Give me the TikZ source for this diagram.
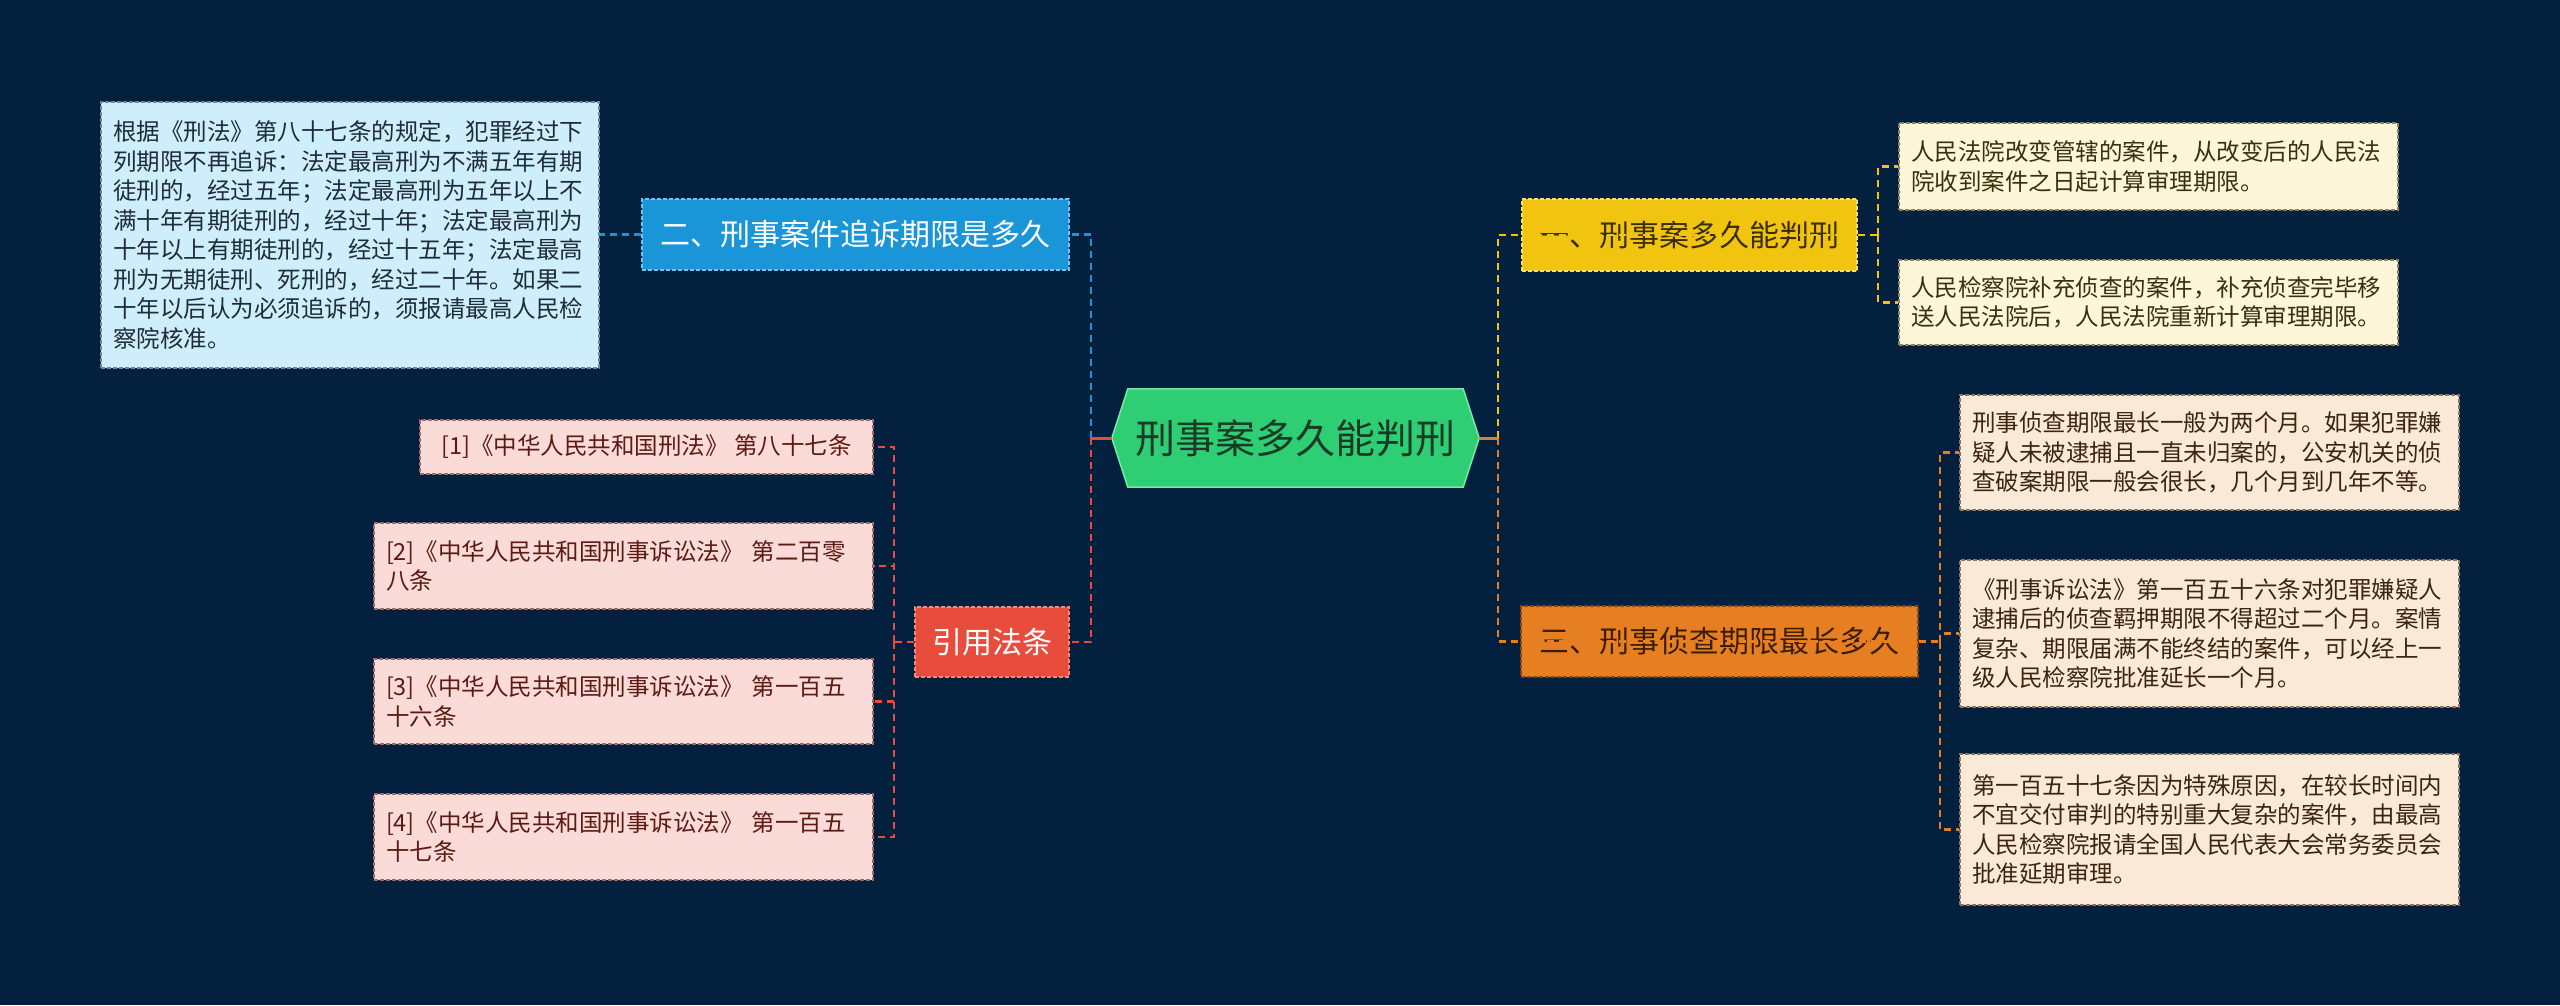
\documentclass[tikz,border=0pt]{standalone}
\usepackage{fontspec}
\setmainfont{Noto Sans CJK SC}
\usetikzlibrary{backgrounds}
\definecolor{bg}{HTML}{03213F}
\definecolor{cgreen}{HTML}{2ECF74}
\definecolor{cgreenb}{HTML}{7BE6A6}
\definecolor{cgreent}{HTML}{1B3A26}
\definecolor{cblue}{HTML}{1A96D8}
\definecolor{cblueb}{HTML}{6CC4F2}
\definecolor{lblue}{HTML}{CFEEFB}
\definecolor{lblueb}{HTML}{6F8799}
\definecolor{lbluet}{HTML}{1E2C3A}
\definecolor{cyellow}{HTML}{F1C40F}
\definecolor{cyellowb}{HTML}{F8DE70}
\definecolor{cyellowt}{HTML}{3A2E00}
\definecolor{lyellow}{HTML}{FDF6D9}
\definecolor{lyellowb}{HTML}{8C8160}
\definecolor{lyellowt}{HTML}{3A3010}
\definecolor{corange}{HTML}{E67E22}
\definecolor{coranget}{HTML}{3B1E05}
\definecolor{lorange}{HTML}{FBE9D7}
\definecolor{loraneb}{HTML}{8E7560}
\definecolor{lorangt}{HTML}{3B2410}
\definecolor{cred}{HTML}{E74C3C}
\definecolor{credb}{HTML}{F28B7F}
\definecolor{lred}{HTML}{FADBD8}
\definecolor{lredb}{HTML}{9A6D69}
\definecolor{lredt}{HTML}{5C1A12}
\tikzset{
  boxbase/.style={rectangle, inner sep=0pt, draw, line width=1.2pt, dash pattern=on 4pt off 2pt},
  branchbox/.style={boxbase, font=\fontsize{30}{36}\selectfont, align=center},
  leafbox/.style={boxbase, font=\fontsize{23.5}{29.5}\selectfont, align=left, inner xsep=12pt},
  conn/.style={line width=2.5pt, dash pattern=on 7pt off 5pt},
  stub/.style={line width=3pt}
}
\begin{document}
\begin{tikzpicture}[x=1pt,y=-1pt]
\useasboundingbox (0,0) rectangle (2560,1005);
% center
\node[minimum width=367pt, minimum height=98pt, inner sep=0pt, text=cgreent,
      font=\fontsize{40}{46}\selectfont] (c) at (1295.5,438) {刑事案多久能判刑};
\begin{scope}[on background layer]
  \fill[bg] (0,0) rectangle (2560,1005);
  \filldraw[fill=cgreen, draw=cgreenb, line width=1.5pt]
    (c.west) -- ([xshift=16pt]c.north west) -- ([xshift=-16pt]c.north east)
    -- (c.east) -- ([xshift=-16pt]c.south east) -- ([xshift=16pt]c.south west) -- cycle;
\end{scope}
% branches
\node[branchbox, fill=cblue, draw=cblueb, text=white, minimum width=427pt, minimum height=71pt]
  (b2) at (855.5,234.5) {二、刑事案件追诉期限是多久};
\node[branchbox, fill=cred, draw=credb, text=white, minimum width=154pt, minimum height=70pt]
  (b4) at (992,642) {引用法条};
\node[branchbox, fill=cyellow, draw=cyellowb, text=cyellowt, minimum width=335pt, minimum height=72pt]
  (b1) at (1689.5,235) {一、刑事案多久能判刑};
\node[branchbox, fill=corange, draw=coranget!60!corange, text=coranget, minimum width=397pt, minimum height=71pt]
  (b3) at (1719.5,641.5) {三、刑事侦查期限最长多久};
% leaves: blue
\node[leafbox, fill=lblue, draw=lblueb, text=lbluet, minimum height=266pt, text width=474pt]
  (lb) at (350,235) {根据《刑法》第八十七条的规定，犯罪经过下\\列期限不再追诉：法定最高刑为不满五年有期\\徒刑的，经过五年；法定最高刑为五年以上不\\满十年有期徒刑的，经过十年；法定最高刑为\\十年以上有期徒刑的，经过十五年；法定最高\\刑为无期徒刑、死刑的，经过二十年。如果二\\十年以后认为必须追诉的，须报请最高人民检\\察院核准。};
% leaves: yellow
\node[leafbox, fill=lyellow, draw=lyellowb, text=lyellowt, minimum height=87pt, text width=475pt]
  (l11) at (2148.5,166.5) {人民法院改变管辖的案件，从改变后的人民法\\院收到案件之日起计算审理期限。};
\node[leafbox, fill=lyellow, draw=lyellowb, text=lyellowt, minimum height=85pt, text width=475pt]
  (l12) at (2148.5,302.5) {人民检察院补充侦查的案件，补充侦查完毕移\\送人民法院后，人民法院重新计算审理期限。};
% leaves: orange
\node[leafbox, fill=lorange, draw=loraneb, text=lorangt, minimum height=115pt, text width=475pt]
  (l31) at (2209.5,452.5) {刑事侦查期限最长一般为两个月。如果犯罪嫌\\疑人未被逮捕且一直未归案的，公安机关的侦\\查破案期限一般会很长，几个月到几年不等。};
\node[leafbox, fill=lorange, draw=loraneb, text=lorangt, minimum height=147pt, text width=475pt]
  (l32) at (2209.5,633.5) {《刑事诉讼法》第一百五十六条对犯罪嫌疑人\\逮捕后的侦查羁押期限不得超过二个月。案情\\复杂、期限届满不能终结的案件，可以经上一\\级人民检察院批准延长一个月。};
\node[leafbox, fill=lorange, draw=loraneb, text=lorangt, minimum height=151pt, text width=475pt]
  (l33) at (2209.5,829.5) {第一百五十七条因为特殊原因，在较长时间内\\不宜交付审判的特别重大复杂的案件，由最高\\人民检察院报请全国人民代表大会常务委员会\\批准延期审理。};
% leaves: red
\node[leafbox, fill=lred, draw=lredb, text=lredt, minimum height=54pt, minimum width=453pt, align=center]
  (r1) at (646.5,447) {[1]《中华人民共和国刑法》 第八十七条};
\node[leafbox, fill=lred, draw=lredb, text=lredt, minimum height=86pt, text width=475pt]
  (r2) at (623.5,566) {[2]《中华人民共和国刑事诉讼法》 第二百零\\八条};
\node[leafbox, fill=lred, draw=lredb, text=lredt, minimum height=85pt, text width=475pt]
  (r3) at (623.5,701.5) {[3]《中华人民共和国刑事诉讼法》 第一百五\\十六条};
\node[leafbox, fill=lred, draw=lredb, text=lredt, minimum height=86pt, text width=475pt]
  (r4) at (623.5,837) {[4]《中华人民共和国刑事诉讼法》 第一百五\\十七条};
% junctions
\coordinate (jl) at (1091,438);
\coordinate (jr) at (1498,438);
\coordinate (j1) at (1878,235);
\coordinate (j3) at (1940,641.5);
\coordinate (j4) at (894,642);
% connectors from center
\draw[conn, cblue] (jl) |- (b2.east);
\draw[conn, cred] (jl) |- (b4.east);
\draw[stub, cred] (c.west) -- (jl);
\draw[conn, cyellow] (jr) |- (b1.east);
\draw[conn, corange] (jr) |- (b3.east);
\draw[stub, corange] (c.east) -- (jr);
% branch to leaves
\draw[conn, cblue] (b2.west) -- (b2.west -| lb.east);
\draw[conn, cyellow] (b1.east) -- (j1);
\draw[conn, cyellow] (j1) |- (l11.west);
\draw[conn, cyellow] (j1) |- (l12.west);
\draw[conn, corange] (b3.east) -- (j3);
\draw[conn, corange] (j3) |- (l31.west);
\draw[conn, corange] (j3) |- (l32.west);
\draw[conn, corange] (j3) |- (l33.west);
\draw[conn, cred] (b4.west) -- (j4);
\draw[conn, cred] (j4) |- (r1.east);
\draw[conn, cred] (j4) |- (r2.east);
\draw[conn, cred] (j4) |- (r3.east);
\draw[conn, cred] (j4) |- (r4.east);
\end{tikzpicture}
\end{document}
